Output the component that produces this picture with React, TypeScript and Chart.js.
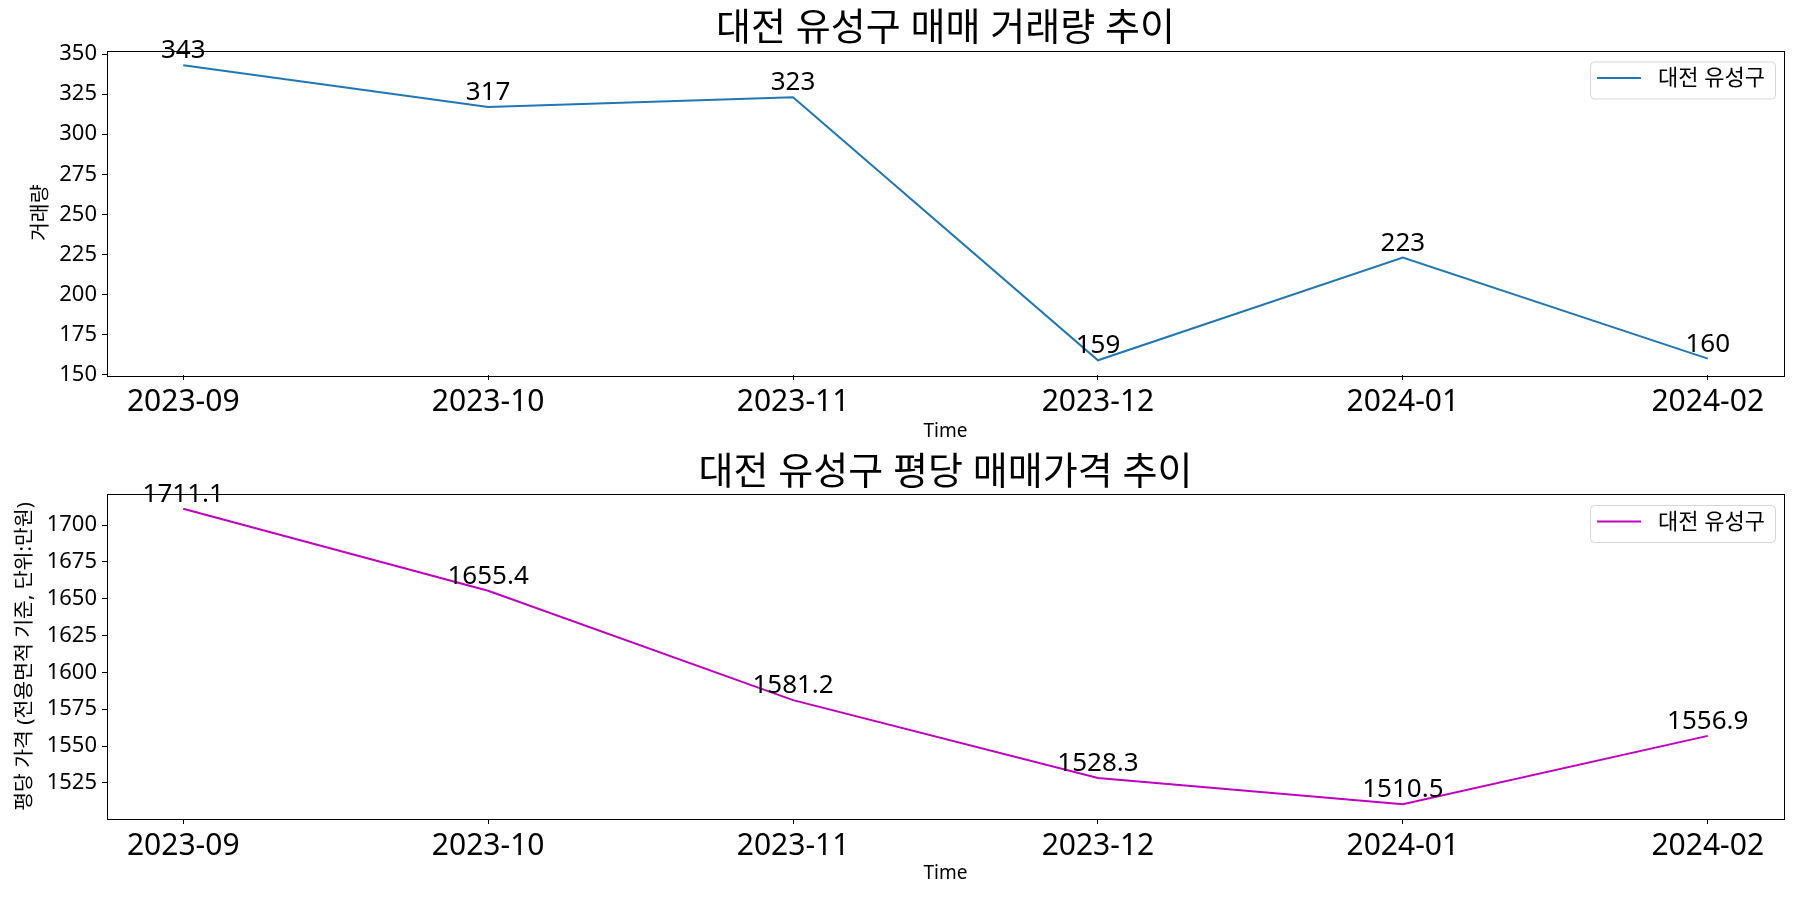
import React, { useEffect, useRef } from "react";
import { Chart, registerables } from "chart.js";

Chart.register(...registerables);

// ---------- data ----------
const months: string[] = ["2023-09", "2023-10", "2023-11", "2023-12", "2024-01", "2024-02"];
const volumeValues: number[] = [343, 317, 323, 159, 223, 160];
const priceValues: number[] = [1711.1, 1655.4, 1581.2, 1528.3, 1510.5, 1556.9];
const volumeTicks: number[] = [150, 175, 200, 225, 250, 275, 300, 325, 350];
const priceTicks: number[] = [1525, 1550, 1575, 1600, 1625, 1650, 1675, 1700];
const seriesName = "대전 유성구";
const volumeTitle = "대전 유성구 매매 거래량 추이";
const priceTitle = "대전 유성구 평당 매매가격 추이";
const volumeYLabel = "거래량";
const priceYLabel = "평당 가격 (전용면적 기준, 단위:만원)";
const xLabel = "Time";

const FONT = '"Noto Sans", "Noto Sans CJK KR", sans-serif';

type Panel = {
  title: string;
  yLabel: string;
  values: number[];
  yTicks: number[];
  color: string;
  decimals: number;
  titlePadTop: number;
  titlePadBottom: number;
  xAxisHeight: number;
  xTitlePadBottom: number;
  yTitlePadTop: number;
};

const padRange = (vals: number[]) => {
  const lo = Math.min(...vals);
  const hi = Math.max(...vals);
  const m = (hi - lo) * 0.05;
  return [lo - m, hi + m];
};

function makeOverlay(p: Panel) {
  return {
    id: "overlay",
    afterDraw(chart: any) {
      const { ctx, chartArea: a } = chart;
      ctx.save();
      // frame (all four spines)
      ctx.strokeStyle = "#000";
      ctx.lineWidth = 1;
      ctx.strokeRect(
        Math.round(a.left) + 0.5,
        Math.round(a.top) + 0.5,
        Math.round(a.right - a.left),
        Math.round(a.bottom - a.top)
      );
      // value labels
      const meta = chart.getDatasetMeta(0);
      ctx.fillStyle = "#000";
      ctx.font = `26px ${FONT}`;
      ctx.textAlign = "center";
      ctx.textBaseline = "alphabetic";
      meta.data.forEach((pt: any, i: number) => {
        const v = p.values[i];
        ctx.fillText(v.toFixed(p.decimals), pt.x, pt.y - 7);
      });
      // legend
      const fs = 22;
      ctx.font = `${fs}px ${FONT}`;
      const tw = ctx.measureText(seriesName).width;
      const padL = 7, lineLen = 44, gap = 17, padR = 10;
      const w = padL + lineLen + gap + tw + padR;
      const h = 37;
      const x = a.right - 9 - w;
      const y = a.top + 11;
      ctx.beginPath();
      if (ctx.roundRect) ctx.roundRect(x + 0.5, y + 0.5, w, h, 4);
      else ctx.rect(x + 0.5, y + 0.5, w, h);
      ctx.fillStyle = "rgba(255,255,255,0.8)";
      ctx.fill();
      ctx.strokeStyle = "rgba(204,204,204,0.8)";
      ctx.lineWidth = 1;
      ctx.stroke();
      ctx.beginPath();
      ctx.strokeStyle = p.color;
      ctx.lineWidth = 2;
      ctx.moveTo(x + padL, y + h / 2 - 2);
      ctx.lineTo(x + padL + lineLen, y + h / 2 - 2);
      ctx.stroke();
      ctx.fillStyle = "#000";
      ctx.textAlign = "left";
      ctx.textBaseline = "middle";
      ctx.fillText(seriesName, x + padL + lineLen + gap, y + h / 2 - 1);
      ctx.restore();
    },
  };
}

function PanelChart({ p }: { p: Panel }) {
  const ref = useRef<HTMLCanvasElement | null>(null);
  useEffect(() => {
    if (!ref.current) return;
    const [yMin, yMax] = padRange(p.values);
    const chart = new Chart(ref.current, {
      type: "line",
      data: {
        datasets: [
          {
            label: seriesName,
            data: p.values.map((v, i) => ({ x: i, y: v })),
            borderColor: p.color,
            backgroundColor: p.color,
            borderWidth: 2,
            pointRadius: 0,
            tension: 0,
            fill: false,
          },
        ],
      },
      options: {
        animation: false,
        responsive: false,
        devicePixelRatio: 1,
        layout: { padding: { left: 0, right: 16, top: 0, bottom: 0 } },
        plugins: {
          legend: { display: false },
          tooltip: { enabled: false },
          title: {
            display: true,
            fullSize: false,
            text: p.title,
            color: "#000",
            font: { family: FONT, size: 38, weight: "normal", lineHeight: 1.0 },
            padding: { top: p.titlePadTop, bottom: p.titlePadBottom },
          },
        },
        scales: {
          x: {
            type: "linear",
            min: -0.25,
            max: months.length - 0.75,
            afterBuildTicks: (s: any) => {
              s.ticks = months.map((_, i) => ({ value: i }));
            },
            afterFit: (s: any) => {
              s.height = p.xAxisHeight;
            },
            ticks: {
              color: "#000",
              font: { family: FONT, size: 30 },
              padding: 4,
              maxRotation: 0,
              autoSkip: false,
              callback: (v: any) => months[Math.round(Number(v))] ?? "",
            },
            grid: {
              display: true,
              drawOnChartArea: false,
              drawTicks: true,
              tickLength: 5,
              tickColor: "#000",
              color: "#000",
            },
            border: { display: false },
            title: {
              display: true,
              text: xLabel,
              color: "#000",
              font: { family: FONT, size: 19, lineHeight: 1.2 },
              padding: { top: 0, bottom: p.xTitlePadBottom },
            },
          },
          y: {
            type: "linear",
            min: yMin,
            max: yMax,
            afterBuildTicks: (s: any) => {
              s.ticks = p.yTicks.map((v) => ({ value: v }));
            },
            afterFit: (s: any) => {
              s.width = 107;
            },
            ticks: {
              color: "#000",
              font: { family: FONT, size: 22 },
              padding: 5,
              autoSkip: false,
              callback: (v: any) => String(v),
            },
            grid: {
              display: true,
              drawOnChartArea: false,
              drawTicks: true,
              tickLength: 5,
              tickColor: "#000",
              color: "#000",
            },
            border: { display: false },
            title: {
              display: true,
              text: p.yLabel,
              color: "#000",
              font: { family: FONT, size: 20.5, lineHeight: 1.2 },
              padding: { top: p.yTitlePadTop, bottom: 0 },
            },
          },
        },
      } as any,
      plugins: [makeOverlay(p)],
    });
    return () => chart.destroy();
  }, [p]);
  return (
    <canvas
      ref={ref}
      width={1800}
      height={450}
      style={{ display: "block", width: 1800, height: 450 }}
    />
  );
}

const topPanel: Panel = {
  title: volumeTitle,
  yLabel: volumeYLabel,
  values: volumeValues,
  yTicks: volumeTicks,
  color: "#1f77b4",
  decimals: 0,
  titlePadTop: 10,
  titlePadBottom: 2.5,
  xAxisHeight: 75,
  xTitlePadBottom: 6.6,
  yTitlePadTop: 29,
};

const bottomPanel: Panel = {
  title: priceTitle,
  yLabel: priceYLabel,
  values: priceValues,
  yTicks: priceTicks,
  color: "#bf00bf",
  decimals: 1,
  titlePadTop: 4,
  titlePadBottom: 2,
  xAxisHeight: 81,
  xTitlePadBottom: 15,
  yTitlePadTop: 13,
};

export default function App() {
  return (
    <div
      style={{
        position: "absolute",
        left: 0,
        top: 0,
        width: 1800,
        height: 900,
        background: "#fff",
        overflow: "hidden",
      }}
    >
      <PanelChart p={topPanel} />
      <PanelChart p={bottomPanel} />
    </div>
  );
}
